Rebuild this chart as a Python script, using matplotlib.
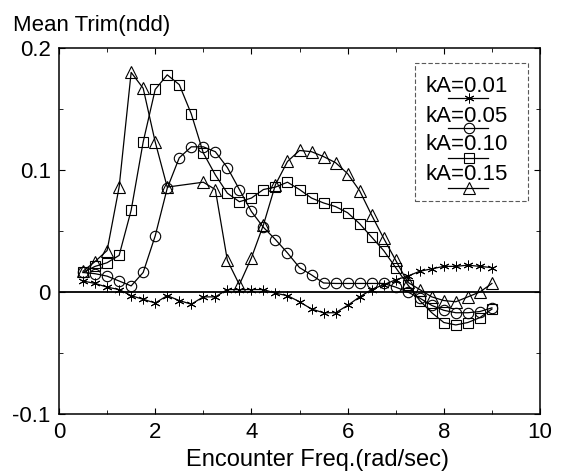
import matplotlib
matplotlib.use("Agg")
import matplotlib.pyplot as plt
import numpy as np
from matplotlib.patches import Rectangle
from matplotlib.lines import Line2D

plt.rcParams['font.family'] = ['Liberation Sans', 'DejaVu Sans']

# ---- data ----
freq = [0.5, 0.75, 1.0, 1.25, 1.5, 1.75, 2.0, 2.25, 2.5, 2.75, 3.0, 3.25, 3.5,
        3.75, 4.0, 4.25, 4.5, 4.75, 5.0, 5.25, 5.5, 5.75, 6.0, 6.25, 6.5, 6.75,
        7.0, 7.25, 7.5, 7.75, 8.0, 8.25, 8.5, 8.75, 9.0]

trim_001 = [0.009, 0.007, 0.004, 0.002, -0.003, -0.006, -0.009, -0.003, -0.007,
            -0.010, -0.004, -0.004, 0.002, 0.002, 0.002, 0.002, -0.001, -0.003,
            -0.008, -0.014, -0.017, -0.017, -0.011, -0.004, 0.002, 0.006, 0.010,
            0.013, 0.017, 0.019, 0.021, 0.021, 0.022, 0.021, 0.020]

trim_005 = [0.016, 0.015, 0.013, 0.009, 0.005, 0.016, 0.046, 0.085, 0.110, 0.119,
            0.119, 0.115, 0.102, 0.084, 0.066, 0.053, 0.043, 0.032, 0.020, 0.014,
            0.0074, 0.007, 0.007, 0.007, 0.007, 0.007, 0.004, 0.000, -0.005,
            -0.011, -0.015, -0.017, -0.017, -0.016, -0.013]

trim_010 = [0.016, 0.021, 0.024, 0.030, 0.067, 0.123, 0.166, 0.178, 0.170, 0.146,
            0.114, 0.096, 0.081, 0.074, 0.077, 0.084, 0.086, 0.090, 0.084, 0.077,
            0.073, 0.070, 0.065, 0.056, 0.045, 0.034, 0.020, 0.006, -0.007,
            -0.017, -0.025, -0.027, -0.025, -0.021, -0.014]

freq_015 = [0.5, 0.75, 1.0, 1.25, 1.5, 1.75, 2.0, 2.25, 3.0, 3.25, 3.5, 3.75,
            4.0, 4.25, 4.5, 4.75, 5.0, 5.25, 5.5, 5.75, 6.0, 6.25, 6.5, 6.75,
            7.0, 7.25, 7.5, 7.75, 8.0, 8.25, 8.5, 8.75, 9.0]
trim_015 = [0.017, 0.025, 0.034, 0.086, 0.180, 0.167, 0.123, 0.086, 0.090, 0.084,
            0.026, 0.006, 0.028, 0.055, 0.088, 0.107, 0.116, 0.115, 0.111, 0.106,
            0.097, 0.083, 0.063, 0.044, 0.026, 0.008, 0.002, -0.004, -0.007,
            -0.008, -0.004, 0.000, 0.007]

labels = ['kA=0.01', 'kA=0.05', 'kA=0.10', 'kA=0.15']
xticks = [0, 2, 4, 6, 8, 10]
xtick_labels = ['0', '2', '4', '6', '8', '10']
yticks = [-0.1, 0, 0.1, 0.2]
ytick_labels = ['-0.1', '0', '0.1', '0.2']

# ---- figure ----
W, H = 561, 476
fig = plt.figure(figsize=(W / 100, H / 100), dpi=100)
ax = fig.add_axes([59 / W, 1 - 414 / H, (540 - 59) / W, (414 - 48) / H])

series = [
    (freq, trim_001, dict(marker=(6, 2, 0), ms=7, mew=0.7)),
    (freq, trim_005, dict(marker='o', ms=7.5, mew=0.8)),
    (freq, trim_010, dict(marker='s', ms=7, mew=0.8)),
    (freq_015, trim_015, dict(marker='^', ms=8, mew=0.8)),
]
for xs, ys, st in series:
    ax.plot(xs, ys, color='black', lw=0.9, mfc='none', mec='black', **st)

ax.axhline(0, color='black', lw=1.3, zorder=1)

ax.set_xlim(0, 10)
ax.set_ylim(-0.1, 0.2)
ax.set_xticks(xticks)
ax.set_xticklabels(xtick_labels)
ax.set_yticks(yticks)
ax.set_yticklabels(ytick_labels)
ax.set_xticks(np.arange(0, 10.01, 1), minor=True)
ax.set_yticks(np.arange(-0.1, 0.201, 0.05), minor=True)
ax.tick_params(which='both', direction='in', top=True, right=True,
               labelsize=16, pad=6)
ax.tick_params(which='major', length=4, width=0.8)
ax.tick_params(which='minor', length=3, width=0.6)
for sp in ax.spines.values():
    sp.set_linewidth(1.1)

# axis titles
fig.text(13 / W, 1 - 31 / H, 'Mean Trim(ndd)', fontsize=16, ha='left',
         va='baseline')
fig.text(317 / W, 1 - 466 / H, 'Encounter Freq.(rad/sec)', fontsize=17,
         ha='center', va='baseline')

# custom legend: text above a short line with marker
def ax_x(px):
    return (px - 59) / (540 - 59)

def ax_y(py):
    return (414 - py) / (414 - 48)

box = Rectangle((ax_x(415), ax_y(201)), ax_x(528) - ax_x(415),
                ax_y(63) - ax_y(201), transform=ax.transAxes, fill=False,
                ec='0.35', lw=0.8, ls=(0, (4, 2)), zorder=5)
ax.add_patch(box)

text_y = [86.5, 116, 145, 174]
line_y = [98, 128, 158, 188]
for i, (lab, (_, _, st)) in enumerate(zip(labels, series)):
    ax.text(ax_x(467), ax_y(text_y[i]), lab, transform=ax.transAxes,
            ha='center', va='center', fontsize=16, zorder=6)
    ax.add_line(Line2D([ax_x(448), ax_x(469), ax_x(488)],
                       [ax_y(line_y[i])] * 3, transform=ax.transAxes,
                       color='black', lw=0.9, mfc='none', mec='black',
                       markevery=[1], zorder=6, **st))

fig.savefig('out.png', dpi=100)
